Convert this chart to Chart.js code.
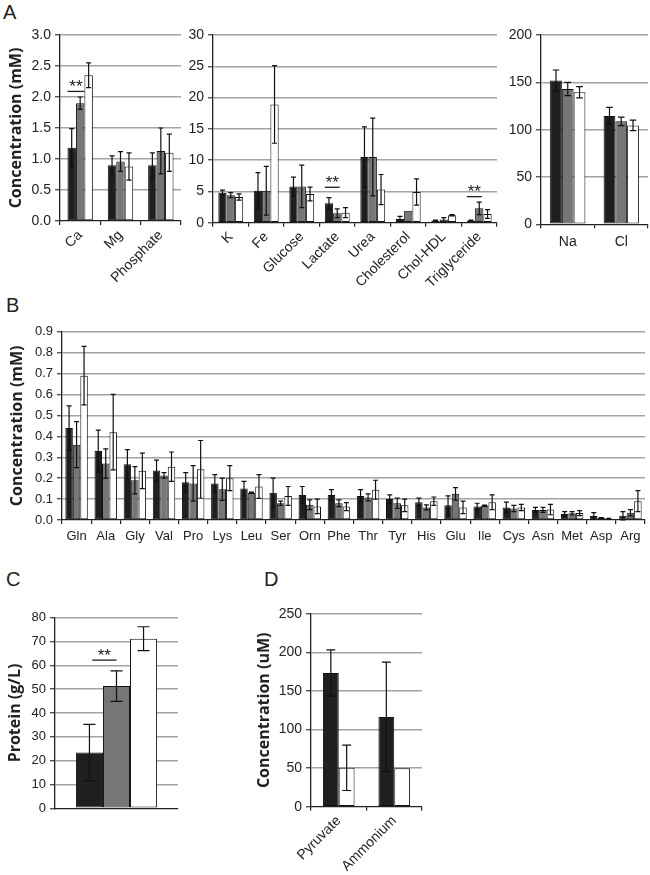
<!DOCTYPE html>
<html><head><meta charset="utf-8">
<script src="https://cdn.jsdelivr.net/npm/chart.js@4.4.1/dist/chart.umd.min.js"></script>
<style>
html,body{margin:0;padding:0;background:#fff}
body{width:650px;height:875px;position:relative;overflow:hidden}
.lbl{position:absolute;font-family:"Liberation Sans",Arial,sans-serif;font-size:20px;line-height:20px;color:#222}
</style></head><body>
<div class="lbl" style="left:3px;top:2px">A</div>
<div class="lbl" style="left:6px;top:295px">B</div>
<div class="lbl" style="left:6px;top:569px">C</div>
<div class="lbl" style="left:264px;top:569px">D</div>
<script>
// ---------- Panel A (left): mM ----------
const a1Labels = ['Ca', 'Mg', 'Phosphate'];
const a1Black = [1.18, 0.90, 0.90];
const a1BlackErr = [0.31, 0.15, 0.20];
const a1Gray = [1.90, 0.96, 1.13];
const a1GrayErr = [0.10, 0.16, 0.37];
const a1White = [2.35, 0.88, 1.10];
const a1WhiteErr = [0.20, 0.22, 0.30];
const a1Ticks = [0, 0.5, 1.0, 1.5, 2.0, 2.5, 3.0];
const a1Sig = [{cat: 0, y: 2.09}];

// ---------- Panel A (middle): mM ----------
const a2Labels = ['K', 'Fe', 'Glucose', 'Lactate', 'Urea', 'Cholesterol', 'Chol-HDL', 'Triglyceride'];
const a2Black = [4.8, 5.1, 5.8, 3.1, 10.5, 0.6, 0.3, 0.3];
const a2BlackErr = [0.4, 2.9, 1.5, 0.9, 4.8, 0.4, 0.1, 0.1];
const a2Gray = [4.4, 5.1, 5.8, 1.5, 10.5, 1.9, 0.5, 2.3];
const a2GrayErr = [0.4, 3.9, 3.4, 0.7, 6.2, 0, 0.3, 1.0];
const a2White = [4.1, 18.9, 4.6, 1.6, 5.3, 4.9, 1.2, 1.4];
const a2WhiteErr = [0.5, 6.2, 1.1, 0.8, 2.4, 2.1, 0.1, 0.7];
const a2Ticks = [0, 5, 10, 15, 20, 25, 30];
const a2Sig = [{cat: 3, y: 5.66}, {cat: 7, y: 4.16}];

// ---------- Panel A (right): mM ----------
const a3Labels = ['Na', 'Cl'];
const a3Black = [152, 114.5];
const a3BlackErr = [11, 9];
const a3Gray = [143, 108.8];
const a3GrayErr = [7, 4.5];
const a3White = [139.5, 104.5];
const a3WhiteErr = [6, 5.5];
const a3Ticks = [0, 50, 100, 150, 200];

// ---------- Panel B: amino acids, mM ----------
const bLabels = ['Gln','Ala','Gly','Val','Pro','Lys','Leu','Ser','Orn','Phe','Thr','Tyr','His','Glu','Ile','Cys','Asn','Met','Asp','Arg'];
const bBlack = [0.44,0.33,0.266,0.236,0.18,0.175,0.15,0.13,0.12,0.12,0.115,0.10,0.085,0.07,0.064,0.06,0.048,0.029,0.019,0.02];
const bBlackErr = [0.105,0.10,0.07,0.05,0.046,0.042,0.035,0.07,0.04,0.025,0.03,0.02,0.02,0.045,0.016,0.025,0.012,0.011,0.016,0.02];
const bGray = [0.36,0.27,0.19,0.213,0.175,0.147,0.13,0.08,0.073,0.08,0.108,0.08,0.06,0.125,0.068,0.055,0.048,0.032,0.01,0.035];
const bGrayErr = [0.11,0.07,0.065,0.013,0.085,0.053,0.003,0.01,0.023,0.016,0.017,0.025,0.012,0.03,0.003,0.015,0.012,0.008,0.002,0.015];
const bWhite = [0.69,0.42,0.235,0.255,0.242,0.2,0.16,0.115,0.065,0.064,0.145,0.07,0.09,0.06,0.085,0.06,0.05,0.033,0.006,0.09];
const bWhiteErr = [0.14,0.18,0.085,0.07,0.138,0.06,0.057,0.045,0.035,0.019,0.045,0.03,0.02,0.03,0.035,0.015,0.025,0.012,0.002,0.05];
const bTicks = [0,0.1,0.2,0.3,0.4,0.5,0.6,0.7,0.8,0.9];

// ---------- Panel C: protein g/L ----------
const cLabels = [''];
const cBlack = [23.4];
const cBlackErr = [11.8];
const cGray = [51.3];
const cGrayErr = [6.4];
const cWhite = [71.2];
const cWhiteErr = [5.0];
const cTicks = [0,10,20,30,40,50,60,70,80];
const cSig = [{cat: 0, y: 62.2}];

// ---------- Panel D: uM ----------
const dLabels = ['Pyruvate', 'Ammonium'];
const dBlack = [173.5, 116.5];
const dBlackErr = [30, 71];
const dWhite = [50.5, 50];
const dWhiteErr = [29.5, 0];
const dTicks = [0, 50, 100, 150, 200, 250];

// ---------- styling ----------
const FONT = '"Liberation Sans", Arial, sans-serif';
const TITLE_FONT = '"Open Sans", "Noto Sans", sans-serif';
const BLACK = '#1f1f1f', GRAY = '#767676', WHITE = '#ffffff', EDGE = '#111111';
const GRID = '#a3a3a3';

const errorBarPlugin = {
  id: 'errorBars',
  afterDatasetsDraw(chart) {
    const ctx = chart.ctx, ys = chart.scales.y;
    chart.data.datasets.forEach((ds, i) => {
      if (!ds.err) return;
      const meta = chart.getDatasetMeta(i);
      meta.data.forEach((bar, j) => {
        const e = ds.err[j];
        if (!e) return;
        const v = ds.data[j];
        const yHi = ys.getPixelForValue(v + e);
        const yLo = ys.getPixelForValue(Math.max(v - e, 0));
        const cap = Math.max(2.5, Math.min(6, bar.width * 0.28));
        ctx.save();
        ctx.strokeStyle = '#111';
        ctx.lineWidth = 1.2;
        ctx.beginPath();
        ctx.moveTo(bar.x, yHi); ctx.lineTo(bar.x, yLo);
        ctx.moveTo(bar.x - cap, yHi); ctx.lineTo(bar.x + cap, yHi);
        ctx.moveTo(bar.x - cap, yLo); ctx.lineTo(bar.x + cap, yLo);
        ctx.stroke();
        ctx.restore();
      });
    });
  }
};

const sigPlugin = {
  id: 'sig',
  afterDatasetsDraw(chart, args, opts) {
    const ctx = chart.ctx;
    (opts.marks || []).forEach(m => {
      const b1 = chart.getDatasetMeta(0).data[m.cat];
      const b2 = chart.getDatasetMeta(1).data[m.cat];
      const x1 = b1.x + opts.f1 * b1.width, x2 = b2.x + opts.f2 * b2.width;
      const y = chart.scales.y.getPixelForValue(m.y);
      ctx.save();
      ctx.strokeStyle = '#222'; ctx.lineWidth = 1.3;
      ctx.beginPath(); ctx.moveTo(x1, y); ctx.lineTo(x2, y); ctx.stroke();
      ctx.fillStyle = '#222';
      ctx.font = '17px ' + FONT;
      ctx.textAlign = 'center'; ctx.textBaseline = 'alphabetic';
      ctx.fillText('**', (x1 + x2) / 2, y + 0.5);
      ctx.restore();
    });
  }
};

function bars(vals, errs, color) {
  return {data: vals, err: errs, backgroundColor: color, borderColor: EDGE, borderWidth: 1, borderSkipped: false};
}

function makeChart(rect, plot, o) {
  const cv = document.createElement('canvas');
  cv.width = rect.w; cv.height = rect.h;
  cv.style.cssText = `position:absolute;left:${rect.x}px;top:${rect.y}px;width:${rect.w}px;height:${rect.h}px`;
  document.body.appendChild(cv);
  const tickVals = o.ticks;
  return new Chart(cv, {
    type: 'bar',
    data: {labels: o.labels, datasets: o.datasets},
    options: {
      responsive: false, animation: false, devicePixelRatio: 1,
      layout: {padding: {left: 0, top: plot.t - rect.y, right: rect.x + rect.w - plot.r, bottom: 0}},
      plugins: {legend: {display: false}, tooltip: {enabled: false},
                sig: {marks: o.sig || [], f1: o.f1 ?? -0.5, f2: o.f2 ?? 0.5}},
      datasets: {bar: {categoryPercentage: o.cp, barPercentage: 1}},
      scales: {
        x: {
          offset: true,
          grid: {display: true, drawOnChartArea: false, drawTicks: o.xTicks !== false, tickLength: 4, color: '#222', lineWidth: 1.2, offset: true},
          border: {display: true, color: '#222', width: 1.3},
          ticks: {display: o.xLabels !== false, autoSkip: false, font: {family: FONT, size: o.xFont}, color: '#222',
                  maxRotation: o.rot, minRotation: o.rot, padding: o.xPad},
          afterFit(s) { s.height = rect.y + rect.h - plot.b; }
        },
        y: {
          min: tickVals[0], max: tickVals[tickVals.length - 1],
          afterBuildTicks(s) { s.ticks = tickVals.map(v => ({value: v})); },
          ticks: {font: {family: FONT, size: o.yFont}, color: '#222', padding: 4,
                  callback: v => o.dec ? Number(v).toFixed(o.dec) : String(v)},
          grid: {color: c => (c.tick && c.tick.value === 0) ? 'rgba(0,0,0,0)' : GRID, lineWidth: 1.4, tickLength: 5, tickColor: '#555'},
          border: {display: true, color: '#222', width: 1.3},
          title: {display: !!o.title, text: o.title || '', font: {family: TITLE_FONT, size: 16, weight: 'bold'}, color: '#222',
                  padding: {top: o.titlePad || 0, bottom: 0}},
          afterFit(s) { s.width = plot.l - rect.x; }
        }
      }
    },
    plugins: [errorBarPlugin, sigPlugin]
  });
}

// Panel A left
makeChart({x: 0, y: 0, w: 184, h: 295}, {l: 60, t: 35, r: 181, b: 221}, {
  labels: a1Labels,
  datasets: [bars(a1Black, a1BlackErr, BLACK), bars(a1Gray, a1GrayErr, GRAY), bars(a1White, a1WhiteErr, WHITE)],
  ticks: a1Ticks, dec: 1, cp: 0.63, rot: 45, xFont: 14, yFont: 14, xPad: 2,
  title: 'Concentration (mM)', titlePad: 7, sig: a1Sig, f1: -0.5, f2: 0.5
});
// Panel A middle
makeChart({x: 182, y: 0, w: 318, h: 295}, {l: 213, t: 35, r: 497, b: 222.7}, {
  labels: a2Labels,
  datasets: [bars(a2Black, a2BlackErr, BLACK), bars(a2Gray, a2GrayErr, GRAY), bars(a2White, a2WhiteErr, WHITE)],
  ticks: a2Ticks, cp: 0.70, rot: 45, xFont: 14, yFont: 14, xPad: 2,
  sig: a2Sig, f1: -0.5, f2: 0.3
});
// Panel A right
makeChart({x: 500, y: 0, w: 150, h: 295}, {l: 541, t: 35, r: 648, b: 224.3}, {
  labels: a3Labels,
  datasets: [bars(a3Black, a3BlackErr, BLACK), bars(a3Gray, a3GrayErr, GRAY), bars(a3White, a3WhiteErr, WHITE)],
  ticks: a3Ticks, cp: 0.66, rot: 0, xFont: 14, yFont: 14, xPad: 5
});
// Panel B
makeChart({x: 0, y: 300, w: 650, h: 250}, {l: 62, t: 331.7, r: 645, b: 520}, {
  labels: bLabels,
  datasets: [bars(bBlack, bBlackErr, BLACK), bars(bGray, bGrayErr, GRAY), bars(bWhite, bWhiteErr, WHITE)],
  ticks: bTicks, dec: 1, cp: 0.77, rot: 0, xFont: 13, yFont: 13, xPad: 5,
  title: 'Concentration (mM)', titlePad: 8
});
// Panel C
makeChart({x: 0, y: 590, w: 184, h: 285}, {l: 55, t: 617.7, r: 178, b: 808.3}, {
  labels: cLabels,
  datasets: [bars(cBlack, cBlackErr, BLACK), bars(cGray, cGrayErr, GRAY), bars(cWhite, cWhiteErr, WHITE)],
  ticks: cTicks, cp: 0.66, rot: 0, xFont: 13, yFont: 13, xPad: 4, xTicks: false, xLabels: false,
  title: 'Protein (g/L)', titlePad: 6, sig: cSig, f1: 0.1, f2: 0
});
// Panel D
makeChart({x: 245, y: 590, w: 185, h: 285}, {l: 311, t: 614, r: 422, b: 806.7}, {
  labels: dLabels,
  datasets: [bars(dBlack, dBlackErr, BLACK), bars(dWhite, dWhiteErr, WHITE)],
  ticks: dTicks, cp: 0.57, rot: 45, xFont: 14, yFont: 14, xPad: 2,
  title: 'Concentration (uM)', titlePad: 9.5
});
</script>
</body></html>
